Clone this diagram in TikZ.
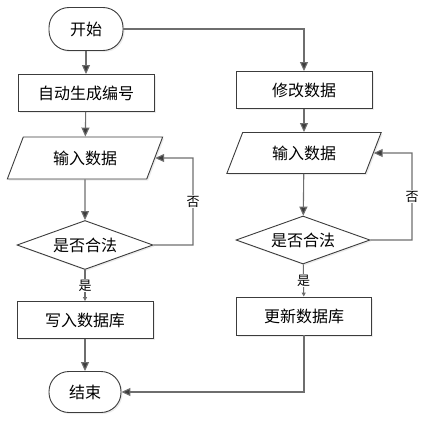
\documentclass[tikz,border=0pt]{standalone}
\usepackage{fontspec}
\setmainfont{Noto Sans CJK SC}
\usetikzlibrary{positioning, arrows.meta, shapes.geometric, shadows}

\definecolor{linegray}{HTML}{6E6E6E}
\definecolor{tipgray}{HTML}{3C3C3C}

\tikzset{
  base/.style={draw=tipgray, fill=white, line width=0.9pt, font=\fontsize{16}{18}\selectfont,
    drop shadow={shadow xshift=1.5pt, shadow yshift=-1.5pt, opacity=0.15}},
  terminal/.style={base, rectangle, rounded corners=20pt, minimum width=74pt, minimum height=43pt},
  process/.style={base, rectangle, minimum width=136pt, minimum height=37pt},
  io/.style={base, trapezium, trapezium left angle=67, trapezium right angle=113,
    trapezium stretches=true, minimum width=156pt, minimum height=42pt},
  decision/.style={base, diamond, aspect=2.8, minimum width=136pt, minimum height=49pt, inner sep=0pt},
  flow/.style={draw=linegray, line width=1.1pt, -{Triangle[length=9pt, width=8pt, fill=tipgray]}},
  yesflow/.style={draw=linegray, line width=1.1pt, -{Triangle[length=4pt, width=4pt, fill=tipgray]}},
  lbl/.style={fill=white, inner sep=1pt, font=\fontsize{13}{15}\selectfont}
}

\begin{document}
\begin{tikzpicture}[x=1pt, y=-1pt]
    \useasboundingbox (0,0) rectangle (427,431);

    % left column
    \node[terminal] (start) at (86,29) {开始};
    \node[process] (gen) at (86,93) {自动生成编号};
    \node[io] (in1) at (85,158) {输入数据};
    \node[decision] (chk1) at (85,245) {是否合法};
    \node[process] (write) at (85,320) {写入数据库};
    \node[terminal, minimum width=72pt, minimum height=41pt] (end) at (85,392) {结束};

    % right column
    \node[process] (mod) at (304,90) {修改数据};
    \node[io, minimum width=155pt, minimum height=41pt] (in2) at (304,153) {输入数据};
    \node[decision, minimum width=134pt, minimum height=48pt] (chk2) at (303,240) {是否合法};
    \node[process, minimum width=135pt, minimum height=38pt] (upd) at (304,316) {更新数据库};

    \coordinate (back1) at (193,158);
    \coordinate (back2) at (412,153);

    \draw[flow] (start) -- (gen);
    \draw[flow] (gen) -- (in1);
    \draw[flow] (in1) -- (chk1);
    \draw[yesflow] (chk1) -- node[lbl] {是} (write);
    \draw[flow] (write) -- (end);
    \draw[flow] (chk1.east) -| node[lbl, pos=0.75] {否} (back1) -- (in1.east);

    \draw[flow] (start.east) -| (mod.north);
    \draw[flow] (mod) -- (in2);
    \draw[flow] (in2) -- (chk2);
    \draw[yesflow] (chk2) -- node[lbl] {是} (upd);
    \draw[flow] (chk2.east) -| node[lbl, pos=0.75] {否} (back2) -- (in2.east);
    \draw[flow] (upd.south) |- (end.east);
\end{tikzpicture}
\end{document}
